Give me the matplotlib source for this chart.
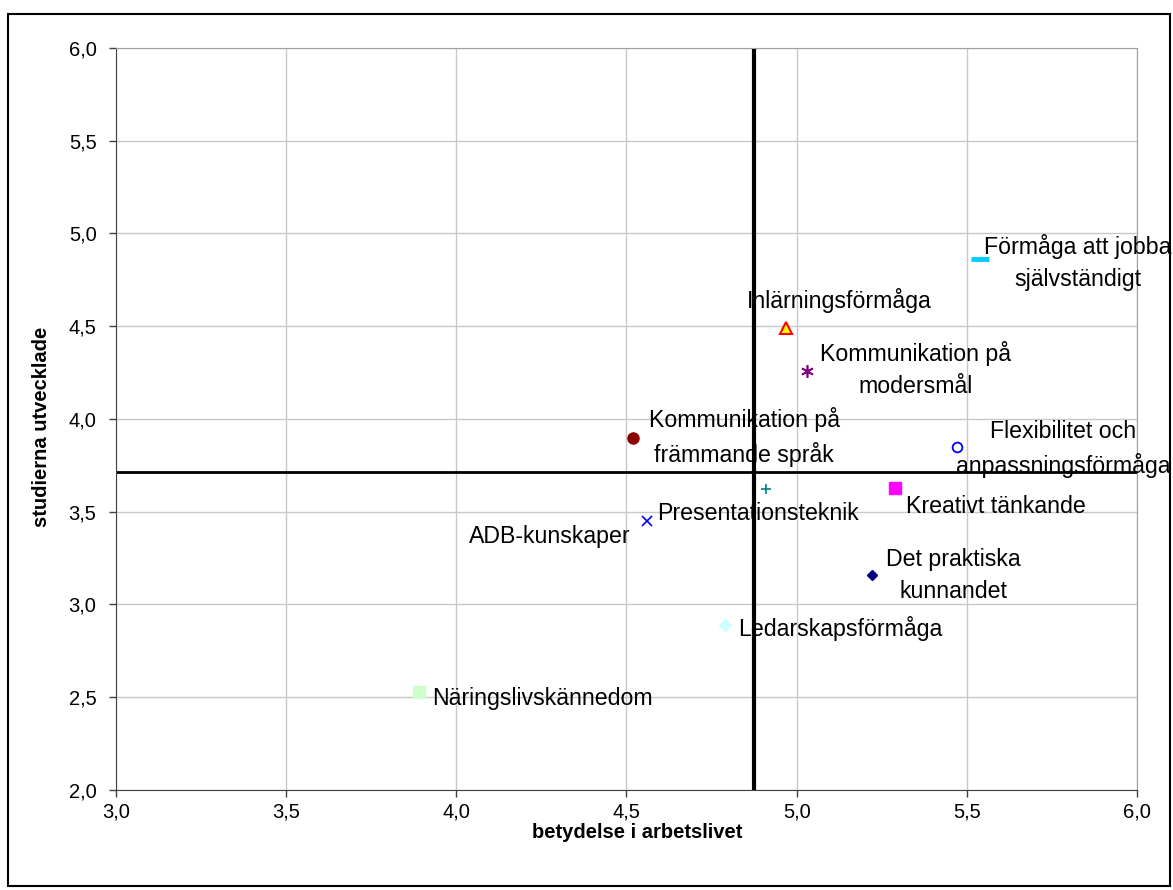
import matplotlib
matplotlib.use("Agg")
import matplotlib.pyplot as plt
from matplotlib.patches import Rectangle
from matplotlib.ticker import FuncFormatter

plt.rcParams['font.family'] = ['Liberation Sans', 'DejaVu Sans']

# Data
names = [
    "Förmåga att jobba\nsjälvständigt",
    "Inlärningsförmåga",
    "Kommunikation på\nmodersmål",
    "Kommunikation på\nfrämmande språk",
    "Flexibilitet och\nanpassningsförmåga",
    "Kreativt tänkande",
    "Presentationsteknik",
    "ADB-kunskaper",
    "Det praktiska\nkunnandet",
    "Ledarskapsförmåga",
    "Näringslivskännedom",
]
betydelse = [5.54, 4.97, 5.03, 4.52, 5.47, 5.29, 4.56, 4.91, 5.22, 4.79, 3.89]
utvecklade = [4.86, 4.49, 4.26, 3.90, 3.85, 3.63, 3.45, 3.62, 3.16, 2.89, 2.53]

mean_x = 4.876
mean_y = 3.714

x_ticks = [3.0, 3.5, 4.0, 4.5, 5.0, 5.5, 6.0]
y_ticks = [2.0, 2.5, 3.0, 3.5, 4.0, 4.5, 5.0, 5.5, 6.0]

# marker styles per point
styles = [
    dict(marker='_', ms=13, mew=3.5, color='#00CCFF'),
    dict(marker='^', ms=9, mew=1.5, markerfacecolor='#FFFF00', markeredgecolor='#FF0000'),
    dict(marker=(6, 2, 0), ms=9, mew=1.2, color='#800080'),
    dict(marker='o', ms=8, mew=1, color='#8B0000'),
    dict(marker='o', ms=7, mew=1.3, markerfacecolor='none', markeredgecolor='#0000FF'),
    dict(marker='s', ms=8, mew=1, color='#FF00FF'),
    dict(marker='x', ms=7, mew=1.2, color='#0000FF'),
    dict(marker='+', ms=7, mew=1.2, color='#008080'),
    dict(marker='D', ms=5, mew=1, color='#000080'),
    dict(marker='D', ms=6, mew=1, color='#CCFFFF'),
    dict(marker='s', ms=8, mew=1, color='#CCFFCC'),
]

# label anchors (left edge, vertical centre)
label_x = [5.55, 4.853, 5.068, 4.565, 5.468, 5.321, 4.591, 4.038, 5.262, 4.829, 3.929]
label_y = [4.841, 4.636, 4.264, 3.903, 3.838, 3.526, 3.488, 3.364, 3.154, 2.873, 2.491]

fig = plt.figure(figsize=(11.73, 8.9), dpi=100)
ax = fig.add_axes([0.0989, 0.1124, 0.8704, 0.8337])

ax.set_xlim(3.0, 6.0)
ax.set_ylim(2.0, 6.0)
ax.set_xticks(x_ticks)
ax.set_yticks(y_ticks)
comma = FuncFormatter(lambda v, p: f"{v:.1f}".replace('.', ','))
ax.xaxis.set_major_formatter(comma)
ax.yaxis.set_major_formatter(comma)
ax.tick_params(labelsize=14.5, length=5, width=1, color='#404040')
ax.tick_params(axis='y', pad=9)
ax.tick_params(axis='x', pad=4)
ax.grid(True, color='#c8c8c8', linewidth=1)
ax.set_axisbelow(True)

for side in ['left', 'bottom']:
    ax.spines[side].set_color('#404040')
for side in ['top', 'right']:
    ax.spines[side].set_color('#a0a0a0')

# quadrant lines
ax.axvline(mean_x, color='black', linewidth=3, zorder=2)
ax.axhline(mean_y, color='black', linewidth=2, zorder=2)

for x, y, st in zip(betydelse, utvecklade, styles):
    ax.plot([x], [y], linestyle='none', zorder=4, **st)

for name, lx, ly in zip(names, label_x, label_y):
    ax.text(lx, ly, name, fontsize=16.7, ha='left', va='center',
            multialignment='center', linespacing=1.5, zorder=5, clip_on=False)

ax.set_xlabel('betydelse i arbetslivet', fontsize=14.5, fontweight='bold')
ax.xaxis.set_label_coords(0.51, -0.045)
ax.set_ylabel('studierna utvecklade', fontsize=14.5, fontweight='bold')
ax.yaxis.set_label_coords(-0.064, 0.49)

# outer chart frame
fig.patches.append(Rectangle((0.0068, 0.0045), 0.9906, 0.98, transform=fig.transFigure,
                             fill=False, edgecolor='black', linewidth=1.5))

fig.savefig('out.png', dpi=100)
